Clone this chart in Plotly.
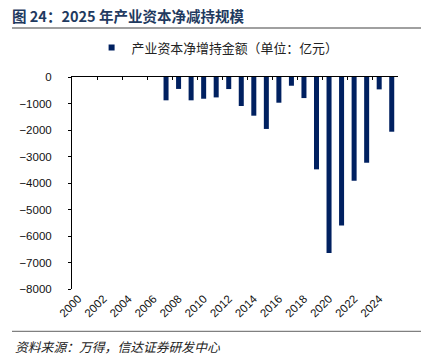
import plotly.graph_objects as go

years = list(range(2000, 2026))
values = [0, 0, 0, 0, 0, 0, 0,
          -880, -450, -880, -820, -770, -455, -1095, -1460, -1960, -970,
          -330, -795, -3485, -6640, -5600, -3915, -3235, -467, -2065]
series_name = "产业资本净增持金额（单位：亿元）"
title_text = "图 24：2025 年产业资本净减持规模"
source_text = "资料来源：万得，信达证券研发中心"
label_years = years[::2]
label_text = [str(y) for y in label_years]
boundary_ticks = [y - 0.5 for y in years[::2]] + [years[-1] + 0.5]

CJK = "Noto Sans CJK SC"
NUM = "Liberation Sans, Arial, sans-serif"
BAR_COLOR = "#002060"

fig = go.Figure()
fig.add_trace(go.Bar(x=years, y=values, name=series_name, showlegend=False,
                     marker=dict(color=BAR_COLOR, line=dict(width=0)),
                     xaxis="x", yaxis="y"))
# legend-only proxy with a small square swatch
fig.add_trace(go.Scatter(x=[None], y=[None], mode="markers", name=series_name,
                         marker=dict(symbol="square", size=6, color=BAR_COLOR),
                         xaxis="x", yaxis="y"))
fig.add_trace(go.Scatter(x=years, y=values, mode="none", showlegend=False,
                         hoverinfo="skip", xaxis="x2", yaxis="y"))

ph = 212.0
pw = 326.0
xr = [years[0] - 0.5, years[-1] + 0.5]
fig.update_layout(
    width=425, height=363,
    margin=dict(l=72, r=27, t=77, b=74, autoexpand=False),
    paper_bgcolor="white", plot_bgcolor="white",
    bargap=0.6,
    showlegend=True,
    legend=dict(orientation="h", x=0.512, xanchor="center", xref="container",
                y=(289.3 - 48) / ph, yref="paper", yanchor="middle",
                font=dict(family=CJK, size=12.9, color="#222"),
                itemwidth=30, itemsizing="trace"),
    title=dict(text="<b>" + title_text + "</b>", x=12 / 425, xref="container", xanchor="left",
               y=1 - 17 / 363, yref="container", yanchor="middle",
               font=dict(family=CJK, size=14.5, color="#1f3a60")),
    xaxis=dict(range=xr, tickvals=label_years, ticktext=label_text, tickangle=-45,
               ticks="", showline=False, showgrid=False, zeroline=False, automargin=False,
               tickfont=dict(family=NUM, size=11.5, color="#111")),
    xaxis2=dict(range=xr, overlaying="x", side="top", anchor="y",
                tickvals=boundary_ticks, ticks="inside", ticklen=3, tickcolor="black",
                showticklabels=False, showline=True, linecolor="black", linewidth=1,
                showgrid=False, zeroline=False, automargin=False),
    yaxis=dict(range=[-8000, 0], dtick=1000, ticks="outside", ticklen=3, tickcolor="black",
               showline=True, linecolor="black", linewidth=1, showgrid=False, zeroline=False,
               ticklabelstandoff=14, automargin=False,
               tickfont=dict(family=NUM, size=11.5, color="#111")),
)

fig.add_shape(type="line", xref="paper", yref="paper",
              x0=(12 - 72) / pw, x1=(421 - 72) / pw,
              y0=(289.3 - 28.3) / ph, y1=(289.3 - 28.3) / ph,
              line=dict(color="#808080", width=1.5))
fig.add_shape(type="line", xref="paper", yref="paper",
              x0=(12 - 72) / pw, x1=(421 - 72) / pw,
              y0=(289.3 - 331.7) / ph, y1=(289.3 - 331.7) / ph,
              line=dict(color="#808080", width=1.2))
fig.add_annotation(text="<i>" + source_text + "</i>", xref="paper", yref="paper",
                   x=(13 - 72) / pw, y=(289.3 - 347) / ph, xanchor="left", yanchor="middle",
                   showarrow=False, font=dict(family=CJK, size=12.8, color="#222"))

fig.write_html("out.html", config={"displayModeBar": False},
               post_script="document.body.style.margin='0px';")
